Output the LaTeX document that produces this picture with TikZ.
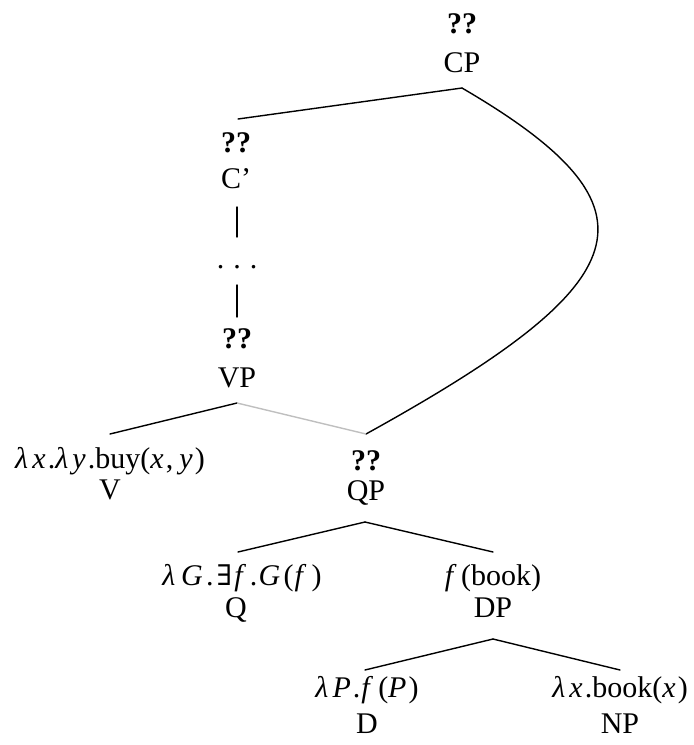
\documentclass[tikz,border=0pt]{standalone}
\usepackage{fontspec}
\setmainfont{Liberation Serif}
\newfontfamily\symfont[Scale=0.95]{DejaVu Serif}
\usetikzlibrary{calc}
\newcommand\mi[1]{\textit{#1}\kern0.07em}
\newcommand\lam{\textit{λ}\kern0.14em}
\newcommand\ex{\kern0.1em{\symfont ∃}\kern0.08em}
\begin{document}
\begin{tikzpicture}[x=1pt,y=-1pt,
  lab/.style={anchor=base,inner sep=0pt,font=\fontsize{30}{36}\selectfont},
  edge/.style={line width=1.4pt,line cap=round},
  grayedge/.style={line width=1.4pt,color=black!25}]
\useasboundingbox (0,0) rectangle (694,745);
% nodes
\node[lab] (cpL) at (462,33) {\textbf{??}};
\node[lab] (cp) at (462,72) {CP};
\node[lab] (cbL) at (236,152) {\textbf{??}};
\node[lab] (cb) at (236,188) {C’};
\node[lab] (dots) at (237,268) {.\hspace{0.3em}.\hspace{0.3em}.};
\node[lab] (vpL) at (237,348) {\textbf{??}};
\node[lab] (vp) at (237,387) {VP};
\node[lab] (vL) at (110,468) {\lam\mi{x}.\lam\mi{y}.buy(\mi{x},\kern0.2em\mi{y})};
\node[lab] (v) at (110,499) {V};
\node[lab] (qpL) at (366,470) {\textbf{??}};
\node[lab] (qp) at (366,500) {QP};
\node[lab] (qL) at (242,585) {\lam\kern0.05em\mi{G}\kern0.04em.\ex\mi{f}\kern0.05em.\kern0.04em\mi{G}\kern0.04em(\kern0.04em\mi{f}\kern0.1em)};
\node[lab] (q) at (236,617) {Q};
\node[lab] (dpL) at (493,585) {\mi{f}\kern0.08em(book)};
\node[lab] (dp) at (493,617) {DP};
\node[lab] (dL) at (367,697) {\lam\mi{P}.\kern0.03em\mi{f}\kern0.1em(\mi{P})};
\node[lab] (d) at (367,733) {D};
\node[lab] (npL) at (620,697) {\lam\mi{x}.book(\mi{x})};
\node[lab] (np) at (620,733) {NP};
% connectors
\draw[edge] ($(cp.base)+(0,16)$) -- ($(cbL.base)+(2,-33)$);
\draw[edge] ($(cp.base)+(0,16)$) .. controls ($(cp.base)+(209,138)$) and ($(qpL.base)+(273,-187)$) .. ($(qpL.base)+(0,-36)$);
\draw[edge] ($(cb.base)+(1,19)$) -- ($(dots.base)+(0,-31)$);
\draw[edge] ($(dots.base)+(0,17)$) -- ($(vpL.base)+(0,-31)$);
\draw[edge] ($(vp.base)+(0,16)$) -- ($(vL.base)+(0,-34)$);
\draw[grayedge] ($(vp.base)+(0,16)$) -- ($(qpL.base)+(0,-36)$);
\draw[edge] ($(qp.base)+(-1,22)$) -- ($(qL.base)+(-4,-33)$);
\draw[edge] ($(qp.base)+(-1,22)$) -- ($(dpL.base)+(0,-33)$);
\draw[edge] ($(dp.base)+(0,22)$) -- ($(dL.base)+(-2,-27)$);
\draw[edge] ($(dp.base)+(0,22)$) -- ($(npL.base)+(0,-27)$);
\end{tikzpicture}
\end{document}
